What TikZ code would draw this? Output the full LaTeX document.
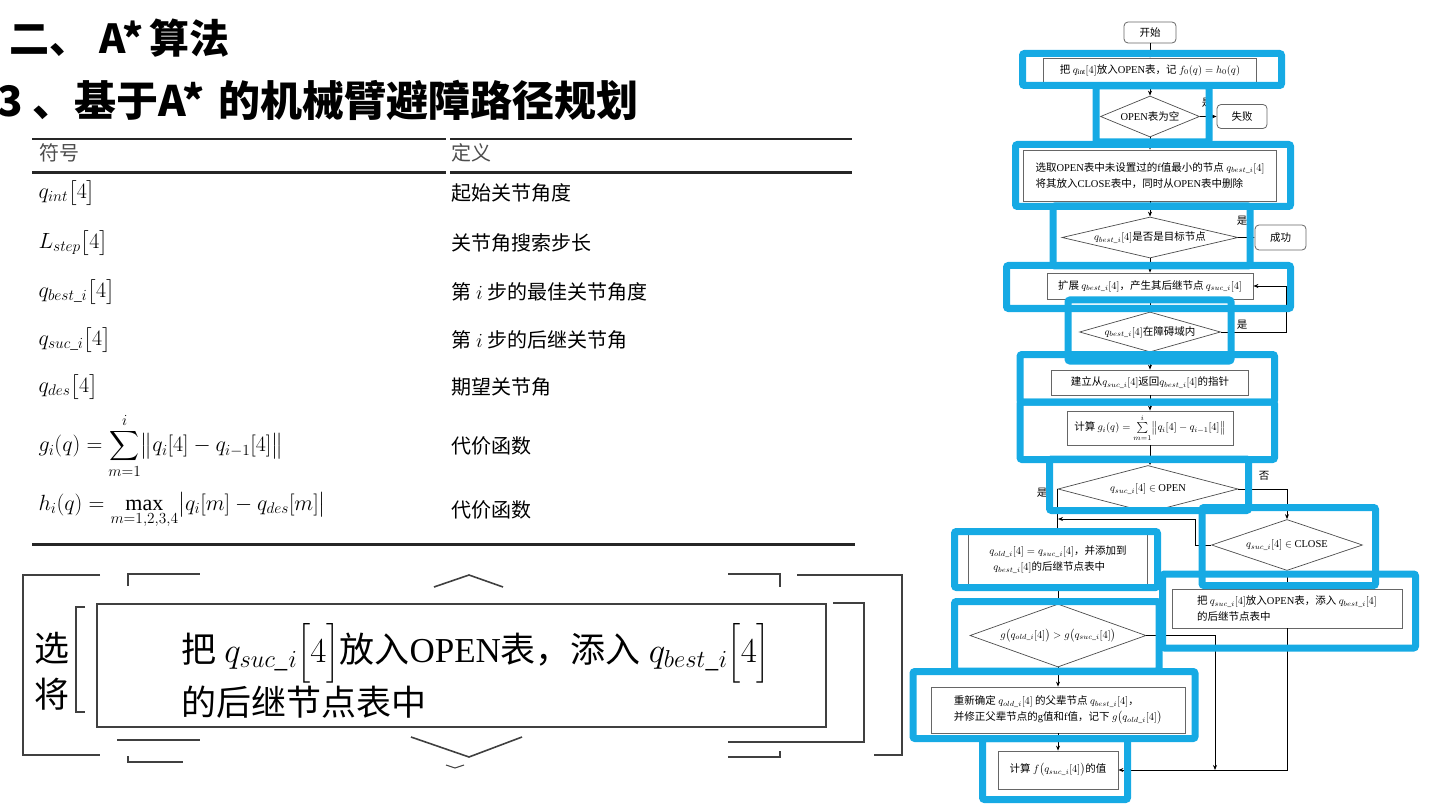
\RequirePackage{fix-cm}
\documentclass[tikz,border=0pt]{standalone}
\usepackage{amsmath}
\usepackage{fontspec}
\setmainfont{Liberation Serif}
\newfontfamily\cjk{Noto Sans CJK SC}
\usetikzlibrary{arrows.meta,positioning,shapes.geometric}

\definecolor{hlblue}{RGB}{22,170,228}
\newcommand{\en}[1]{{\rmfamily #1}}
\newcommand{\flowfont}{\cjk\fontsize{10.5}{16}\selectfont}
\newcommand{\tabfont}{\cjk\fontsize{20}{24}\selectfont}
\newcommand{\tabmath}{\fontsize{22}{26}\selectfont}
\newcommand{\zoomfont}{\cjk\fontsize{35}{46}\selectfont}

\begin{document}
\begin{tikzpicture}[x=1pt, y=-1pt,
  fbox/.style={draw=black!60, line width=0.8pt, inner sep=2pt, align=center, font=\flowfont},
  term/.style={fbox, rounded corners=4pt},
  dec/.style={diamond, draw=black!70, line width=0.7pt, inner sep=0pt, font=\flowfont},
  arr/.style={-{Stealth[length=5pt, width=4pt]}, line width=0.8pt},
  frame/.style={draw=hlblue, line width=7pt, rounded corners=2pt},
  brk/.style={draw=black!75, line width=1.6pt},
  lbl/.style={font=\flowfont, inner sep=0pt}]
  \useasboundingbox (0,0) rectangle (1440,810);

  % titles
  \node[anchor=west, font=\cjk\bfseries\fontsize{40}{42}\selectfont] (title) at (6,38) {二、\hspace{10pt}A*\hspace{6pt}算法};
  \node[anchor=west, font=\cjk\bfseries\fontsize{42}{44}\selectfont] (subtitle) at (-6,100) {3 、基于A*\hspace{14pt}的机械臂避障路径规划};

  % symbol table
  \draw[line width=2.5pt, black!85] (32,139) -- (446,139) (450,139) -- (852,139);
  \draw[line width=3pt, black!85] (32,173) -- (446,173) (450,173) -- (852,173);
  \draw[line width=3pt, black!85] (32,544) -- (855,544);
  \node[anchor=west, font=\tabfont, text=black!70] (hsym) at (36,153) {符号};
  \node[anchor=west, font=\tabfont, text=black!70] (hdef) at (448,153) {定义};
  \node[anchor=west, font=\tabmath] (sym1) at (35,193) {$q_{int}\bigl[4\bigr]$};
  \node[anchor=west, font=\tabmath] (sym2) at (35,243) {$L_{step}\bigl[4\bigr]$};
  \node[anchor=west, font=\tabmath] (sym3) at (35,292) {$q_{best\_i}\bigl[4\bigr]$};
  \node[anchor=west, font=\tabmath] (sym4) at (35,340) {$q_{suc\_i}\bigl[4\bigr]$};
  \node[anchor=west, font=\tabmath] (sym5) at (35,387) {$q_{des}\bigl[4\bigr]$};
  \node[anchor=west, font=\tabmath] (sym6) at (35,446) {$g_i(q)=\displaystyle\sum_{m=1}^{i}\bigl\|q_i[4]-q_{i-1}[4]\bigr\|$};
  \node[anchor=west, font=\tabmath] (sym7) at (35,510) {$h_i(q)=\displaystyle\max_{m=1,2,3,4}\bigl|q_i[m]-q_{des}[m]\bigr|$};
  \node[anchor=west, font=\tabfont] (def1) at (448,193) {起始关节角度};
  \node[anchor=west, font=\tabfont] (def2) at (448,243) {关节角搜索步长};
  \node[anchor=west, font=\tabfont] (def3) at (448,292) {第 $i$ 步的最佳关节角度};
  \node[anchor=west, font=\tabfont] (def4) at (448,340) {第 $i$ 步的后继关节角};
  \node[anchor=west, font=\tabfont] (def5) at (448,387) {期望关节角};
  \node[anchor=west, font=\tabfont] (def6) at (448,446) {代价函数};
  \node[anchor=west, font=\tabfont] (def7) at (448,510) {代价函数};

  % enlarged box with bracket marks
  \node[draw=black!75, line width=1.6pt, minimum width=729pt, minimum height=123pt] (zoombox) at (461.5,665.5) {};
  \node[anchor=west, align=left, font=\zoomfont] (zoomtext) at (178,670) {把 $q_{suc\_i}\Bigl[4\Bigr]$放入\en{OPEN}表，添入 $q_{best\_i}\Bigl[4\Bigr]$\\的后继节点表中};
  \node[font=\zoomfont] (xuan) at (52,648) {选};
  \node[font=\zoomfont] (jiang) at (52,694) {将};
  \draw[brk] (100,575) -- (23,575) -- (23,755) -- (100,755);
  \draw[brk] (128,586) -- (128,574) -- (200,574);
  \draw[brk] (128,756) -- (128,762) -- (183,762);
  \draw[brk] (85,607) -- (76,607) -- (76,712) -- (85,712);
  \draw[brk] (117,740) -- (200,740);
  \draw[brk] (728,574) -- (780,574) -- (780,587);
  \draw[brk] (797,575) -- (902,575) -- (902,755) -- (874,755);
  \draw[brk] (833,603) -- (864,603) -- (864,742) -- (728,742);
  \draw[brk] (728,757) -- (780,757) -- (780,751);
  \draw[brk] (434,587) -- (469,575) -- (503,587);
  \draw[brk] (411,737) -- (469,757) -- (522,737);
  \draw[brk, line width=1pt] (446,765) -- (455,768) -- (464,765);

  % flowchart
  \node[term, minimum width=52pt, minimum height=21pt] (start) at (1150,32.5) {开始};
  \node[fbox, minimum width=213pt, minimum height=24pt] (b1) at (1150,70) {把 $q_{\mathrm{int}}[4]$放入\en{OPEN}表，记 $f_0(q)=h_0(q)$};
  \node[dec, minimum width=99pt, minimum height=41pt] (d1) at (1150,116.5) {\makebox[0pt]{\en{OPEN}表为空}};
  \node[term, minimum width=50pt, minimum height=24pt] (fail) at (1242,116.5) {失败};
  \node[fbox, align=left, minimum width=253pt, minimum height=51pt] (b2) at (1150,175.5) {选取\en{OPEN}表中未设置过的\en{f}值最小的节点 $q_{best\_i}[4]$\\将其放入\en{CLOSE}表中，同时从\en{OPEN}表中删除};
  \node[dec, minimum width=176pt, minimum height=41pt] (d2) at (1150,237.5) {\makebox[0pt]{$q_{best\_i}[4]$是否是目标节点}};
  \node[term, minimum width=51pt, minimum height=25pt] (succ) at (1280.5,237.5) {成功};
  \node[fbox, minimum width=206pt, minimum height=26pt] (b3) at (1150,286) {扩展 $q_{best\_i}[4]$，产生其后继节点 $q_{suc\_i}[4]$};
  \node[dec, minimum width=141pt, minimum height=40pt] (d3) at (1150,332) {\makebox[0pt]{$q_{best\_i}[4]$在障碍域内}};
  \node[fbox, minimum width=197pt, minimum height=25pt] (b4) at (1150,382.5) {建立从$q_{suc\_i}[4]$返回$q_{best\_i}[4]$的指针};
  \node[fbox, minimum width=166pt, minimum height=34pt] (b5) at (1150,428) {计算 $g_i(q)=\sum\limits_{m=1}^{i}\bigl\|q_i[4]-q_{i-1}[4]\bigr\|$};
  \node[dec, minimum width=180pt, minimum height=47pt] (d4) at (1148,489) {\makebox[0pt]{$q_{suc\_i}[4]\in$ \en{OPEN}}};
  \node[dec, minimum width=151pt, minimum height=51pt] (d5) at (1287,545) {\makebox[0pt]{$q_{suc\_i}[4]\in$ \en{CLOSE}}};
  \node[fbox, align=left, minimum width=179pt, minimum height=51pt] (b6) at (1058,559.5) {$q_{old\_i}[4]=q_{suc\_i}[4]$，并添加到\\\hspace{4pt}$q_{best\_i}[4]$的后继节点表中};
  \node[fbox, align=left, minimum width=230pt, minimum height=39pt] (b7) at (1287,608.5) {把 $q_{suc\_i}[4]$放入\en{OPEN}表，添入 $q_{best\_i}[4]$\\的后继节点表中};
  \node[dec, minimum width=176pt, minimum height=63pt] (d6) at (1058,635.5) {\makebox[0pt]{$g\bigl(q_{old\_i}[4]\bigr)>g\bigl(q_{suc\_i}[4]\bigr)$}};
  \node[fbox, align=left, minimum width=254pt, minimum height=46pt] (b8) at (1058,710) {重新确定 $q_{old\_i}[4]$ 的父辈节点 $q_{best\_i}[4]$，\\并修正父辈节点的\en{g}值和\en{f}值，记下 $g\bigl(q_{old\_i}[4]\bigr)$};
  \node[fbox, minimum width=120pt, minimum height=38pt] (b9) at (1058,770) {计算 $f\bigl(q_{suc\_i}[4]\bigr)$的值};

  \coordinate (mergept) at (1058,519);
  \coordinate (jointpt) at (1215,770);

  \draw[arr] (start.south) -- (start.south |- b1.north);
  \draw[arr] (b1.south) -- (b1.south |- d1.north);
  \draw[arr] (d1.south) -- (d1.south |- b2.north);
  \draw[arr] (d1.east) -- (fail.west);
  \draw[arr] (b2.south) -- (b2.south |- d2.north);
  \draw[arr] (d2.east) -- (succ.west);
  \draw[arr] (d2.south) -- (d2.south |- b3.north);
  \draw[arr] (b3.south) -- (b3.south |- d3.north);
  \draw[arr] (d3.east) -- ++(66,0) |- (b3.east);
  \draw[arr] (d3.south) -- (d3.south |- b4.north);
  \draw[arr] (b4.south) -- (b4.south |- b5.north);
  \draw[arr] (b5.south) -- (b5.south |- d4.north);
  \draw[arr] (d4.west) -- (d4.west |- b6.north);
  \draw[arr] (d4.east) -| (d5.north);
  \draw[arr] (d5.west) -- ++(-16,0) |- (mergept);
  \draw[arr] (d5.south) -- (d5.south |- b7.north);
  \draw[arr] (b6.south) -- (b6.south |- d6.north);
  \draw[arr] (d6.south) -- (d6.south |- b8.north);
  \draw[arr] (d6.east) -| (jointpt);
  \draw[arr] (b8.south) -- (b8.south |- b9.north);
  \draw[arr] (b7.south) |- (b9.east);

  \node[lbl] (yes1) at (1207,103) {是};
  \node[lbl] (yes2) at (1242,221) {是};
  \node[lbl] (yes3) at (1242,325) {是};
  \node[lbl] (yes4) at (1042,493) {是};
  \node[lbl] (no4) at (1264,476) {否};

  % highlight frames
  \draw[frame] (1096,86) rectangle (1209,142);
  \draw[frame] (1053,206) rectangle (1250,266);
  \draw[frame] (1068,300) rectangle (1231,361);
  \draw[frame] (1049.5,459) rectangle (1248.5,510.5);
  \draw[frame] (1202,507.5) rectangle (1375.5,585.5);
  \draw[frame] (1022.5,53.5) rectangle (1281.5,85.5);
  \draw[frame] (1015.5,144.5) rectangle (1290.5,206.5);
  \draw[frame] (1006.5,265.5) rectangle (1290.5,308.5);
  \draw[frame] (1020,354.5) rectangle (1274.5,402);
  \draw[frame] (1020,402) rectangle (1274.5,459.5);
  \draw[frame] (1162.5,574) rectangle (1415.5,648);
  \draw[frame] (954.5,531.5) rectangle (1157.5,587.5);
  \draw[frame] (954.5,601.5) rectangle (1159,671);
  \draw[frame] (913,671.5) rectangle (1195,738.5);
  \draw[frame] (982.5,738.5) rectangle (1127.5,799.5);
\end{tikzpicture}
\end{document}
